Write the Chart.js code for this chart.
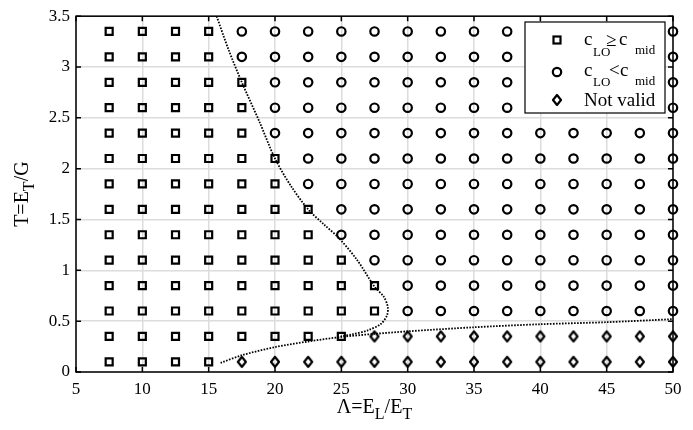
<!DOCTYPE html>
<html>
<head>
<meta charset="utf-8">
<script src="https://cdn.jsdelivr.net/npm/chart.js@4.4.1/dist/chart.umd.min.js"></script>
<style>
  html, body { margin: 0; padding: 0; background: #fff; }
  #wrap { width: 693px; height: 430px; }
</style>
</head>
<body>
<div id="wrap"><canvas id="mapChart"></canvas></div>
<script>
// Grid of computed cases
const lambdaValues = [7.5, 10, 12.5, 15, 17.5, 20, 22.5, 25, 27.5, 30, 32.5, 35, 37.5, 40, 42.5, 45, 47.5, 50];
const tValues = [3.35, 3.1, 2.85, 2.6, 2.35, 2.1, 1.85, 1.6, 1.35, 1.1, 0.85, 0.6, 0.35, 0.1];
// S = c_LO >= c_mid, C = c_LO < c_mid, D = not valid (one string per T row, one char per lambda)
const pointClass = [
    'SSSSCCCCCCCCCCCCCC',
    'SSSSCCCCCCCCCCCCCC',
    'SSSSSCCCCCCCCCCCCC',
    'SSSSSCCCCCCCCCCCCC',
    'SSSSSCCCCCCCCCCCCC',
    'SSSSSSCCCCCCCCCCCC',
    'SSSSSSCCCCCCCCCCCC',
    'SSSSSSSCCCCCCCCCCC',
    'SSSSSSSCCCCCCCCCCC',
    'SSSSSSSSCCCCCCCCCC',
    'SSSSSSSSSCCCCCCCCC',
    'SSSSSSSSSCCCCCCCCC',
    'SSSSSSSSDDDDDDDDDD',
    'SSSSDDDDDDDDDDDDDD'
];

// Boundary curves (dotted)
const upperLambda = [15.6, 16.5, 17.5, 18.8, 20.0, 21.2, 22.5, 23.7, 24.8, 26.2, 27.5, 28.2, 28.5, 28.45, 28.0, 27.0, 25.8, 24.95];
const upperT      = [3.5, 3.17, 2.85, 2.47, 2.1, 1.83, 1.6, 1.45, 1.32, 1.1, 0.84, 0.74, 0.64, 0.56, 0.475, 0.41, 0.37, 0.35];
const lowerLambda = [15.9, 17.5, 20, 22.5, 25, 27.5, 30, 35, 40, 45, 50];
const lowerT      = [0.09, 0.165, 0.245, 0.30, 0.345, 0.375, 0.40, 0.44, 0.47, 0.49, 0.52];

const xTicks = [5, 10, 15, 20, 25, 30, 35, 40, 45, 50];
const yTicks = [0, 0.5, 1, 1.5, 2, 2.5, 3, 3.5];

const SERIF = "'Liberation Serif', 'Times New Roman', serif";
const MARK_W = 2.2;

function makeDiamond(w, h, lw) {
    const c = document.createElement('canvas');
    c.width = w + lw * 2 + 2;
    c.height = h + lw * 2 + 2;
    const g = c.getContext('2d');
    const cx = c.width / 2, cy = c.height / 2;
    g.beginPath();
    g.moveTo(cx, cy - h / 2);
    g.lineTo(cx + w / 2, cy);
    g.lineTo(cx, cy + h / 2);
    g.lineTo(cx - w / 2, cy);
    g.closePath();
    g.lineWidth = lw;
    g.lineJoin = 'round';
    g.strokeStyle = '#000';
    g.stroke();
    return c;
}
const diamond = makeDiamond(8, 10, MARK_W);

const pointsOf = (code) => {
    const pts = [];
    tValues.forEach((t, r) => {
        lambdaValues.forEach((l, c) => {
            if (pointClass[r][c] === code) pts.push({ x: l, y: t });
        });
    });
    return pts;
};
const curve = (xs, ys) => xs.map((v, i) => ({ x: v, y: ys[i] }));

const markerBase = { showLine: false, borderColor: '#000', backgroundColor: 'rgba(0,0,0,0)', borderWidth: MARK_W, clip: false };
const curveBase = { showLine: true, pointRadius: 0, borderColor: '#000', borderWidth: 1.8, borderDash: [1.6, 1.4], tension: 0.3, fill: false };

// draw text made of pieces [text, fontSize, baselineShift]
function richWidth(ctx, pieces) {
    let w = 0;
    pieces.forEach(p => { ctx.font = p[1] + 'px ' + SERIF; w += ctx.measureText(p[0]).width; });
    return w;
}
function drawRich(ctx, pieces, x, y) {
    pieces.forEach(p => {
        ctx.font = p[1] + 'px ' + SERIF;
        ctx.fillText(p[0], x, y + p[2]);
        x += ctx.measureText(p[0]).width;
    });
}

const decorPlugin = {
    id: 'decor',
    afterDraw(chart) {
        const { ctx, chartArea: a, scales: { x, y } } = chart;
        ctx.save();
        // frame + inward ticks
        ctx.strokeStyle = '#000';
        ctx.lineWidth = 1.5;
        ctx.strokeRect(a.left, a.top, a.right - a.left, a.bottom - a.top);
        ctx.beginPath();
        xTicks.forEach(v => {
            const px = x.getPixelForValue(v);
            ctx.moveTo(px, a.bottom); ctx.lineTo(px, a.bottom - 5);
            ctx.moveTo(px, a.top); ctx.lineTo(px, a.top + 5);
        });
        yTicks.forEach(v => {
            const py = y.getPixelForValue(v);
            ctx.moveTo(a.left, py); ctx.lineTo(a.left + 5, py);
            ctx.moveTo(a.right, py); ctx.lineTo(a.right - 5, py);
        });
        ctx.stroke();

        // axis titles
        ctx.fillStyle = '#000';
        ctx.textBaseline = 'alphabetic';
        ctx.textAlign = 'left';
        const xTitle = [['Λ=E', 20, 0], ['L', 16, 6], ['/E', 20, 0], ['T', 16, 6]];
        const cx = (a.left + a.right) / 2;
        drawRich(ctx, xTitle, cx - richWidth(ctx, xTitle) / 2, 413);

        const yTitle = [['T=E', 20, 0], ['T', 16, 6], ['/G', 20, 0]];
        ctx.save();
        ctx.translate(28, (a.top + a.bottom) / 2);
        ctx.rotate(-Math.PI / 2);
        drawRich(ctx, yTitle, -richWidth(ctx, yTitle) / 2, 0);
        ctx.restore();

        // legend box (drawn over the markers)
        ctx.fillStyle = '#fff';
        ctx.fillRect(525, 22, 140, 91);
        ctx.lineWidth = 1.2;
        ctx.strokeRect(525, 22, 140, 91);
        ctx.lineWidth = MARK_W;
        ctx.strokeRect(557 - 3.5, 40 - 3.5, 7, 7);
        ctx.beginPath();
        ctx.arc(557, 72, 4.2, 0, Math.PI * 2);
        ctx.stroke();
        ctx.drawImage(diamond, 557 - diamond.width / 2, 100 - diamond.height / 2);

        ctx.fillStyle = '#000';
        const put = (t, size, px, py) => { ctx.font = size + 'px ' + SERIF; ctx.fillText(t, px, py); };
        put('c', 19, 584, 45); put('LO', 13, 593, 55.5); put('≥', 19, 606, 46); put('c', 19, 619, 45); put('mid', 13, 635, 54);
        put('c', 19, 584, 76); put('LO', 13, 593, 86); put('<', 19, 609, 76); put('c', 19, 620, 76); put('mid', 13, 635, 85);
        put('Not valid', 19, 584, 106);
        ctx.restore();
    }
};

const tickFont = { family: SERIF, size: 17 };

new Chart(document.getElementById('mapChart'), {
    type: 'scatter',
    data: {
        datasets: [
            { ...curveBase, label: 'upper boundary', data: curve(upperLambda, upperT) },
            { ...curveBase, label: 'lower boundary', data: curve(lowerLambda, lowerT) },
            { ...markerBase, label: 'cLO >= cmid', data: pointsOf('S'), pointStyle: 'rect', pointRadius: 4.95 },
            { ...markerBase, label: 'cLO < cmid', data: pointsOf('C'), pointStyle: 'circle', pointRadius: 4.2 },
            { ...markerBase, label: 'Not valid', data: pointsOf('D'), pointStyle: diamond, pointRadius: 5 }
        ]
    },
    options: {
        responsive: true,
        maintainAspectRatio: false,
        animation: false,
        events: [],
        layout: { padding: { top: 14, right: 20, left: 0, bottom: 0 } },
        plugins: {
            legend: { display: false },
            tooltip: { enabled: false }
        },
        scales: {
            x: {
                type: 'linear',
                min: 5,
                max: 50,
                afterBuildTicks: s => { s.ticks = xTicks.map(v => ({ value: v })); },
                afterFit: s => { s.height = 58; },
                ticks: { font: tickFont, color: '#000', padding: 7, maxRotation: 0, autoSkip: false, callback: v => String(v) },
                grid: { color: '#dcdcdc', lineWidth: 1.5, drawTicks: false },
                border: { display: false }
            },
            y: {
                type: 'linear',
                min: 0,
                max: 3.5,
                afterBuildTicks: s => { s.ticks = yTicks.map(v => ({ value: v })); },
                afterFit: s => { s.width = 76; },
                ticks: { font: tickFont, color: '#000', padding: 6, autoSkip: false, callback: v => String(v) },
                grid: { color: '#dcdcdc', lineWidth: 1.5, drawTicks: false },
                border: { display: false }
            }
        }
    },
    plugins: [decorPlugin]
});
</script>
</body>
</html>
